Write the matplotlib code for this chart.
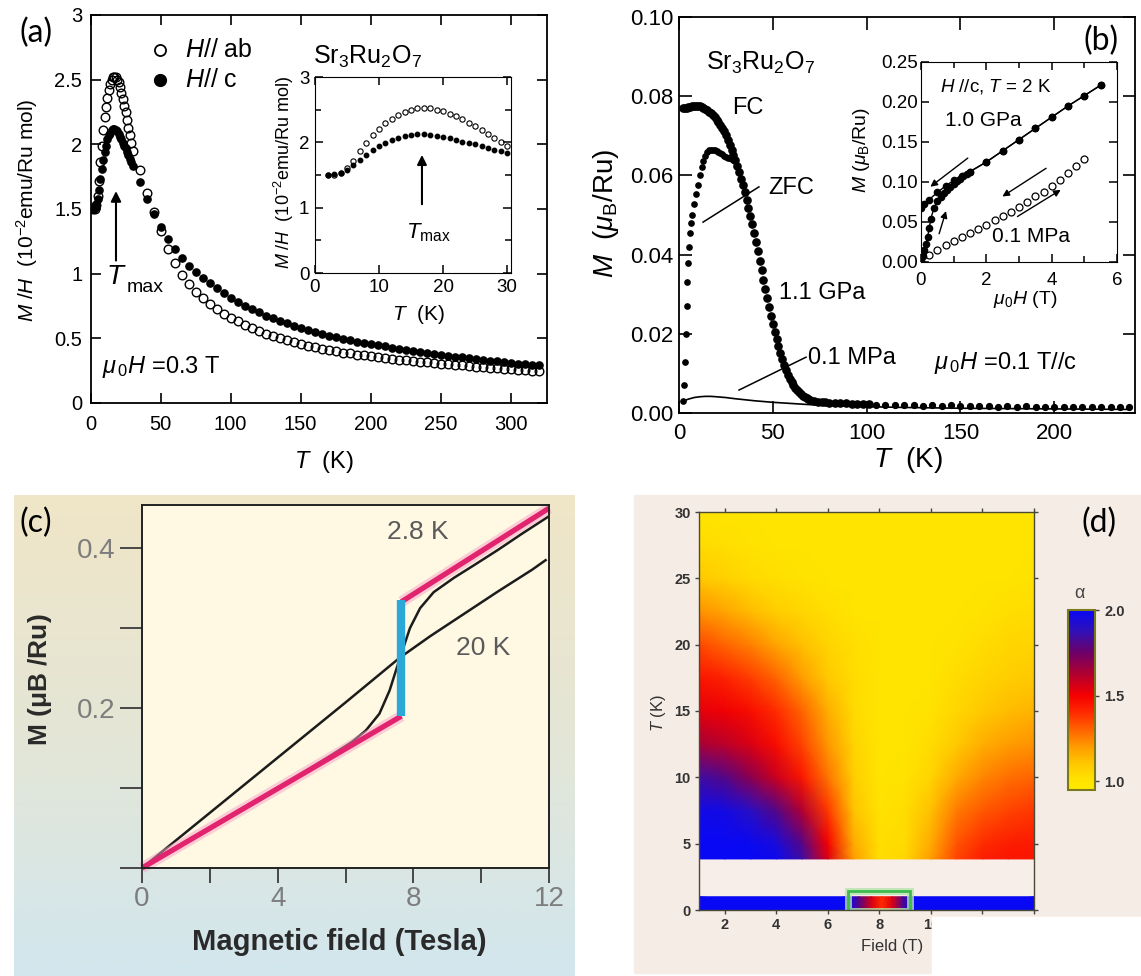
import numpy as np
import matplotlib
matplotlib.use('Agg')
import matplotlib.pyplot as plt
from matplotlib.colors import LinearSegmentedColormap, Normalize
from matplotlib.cm import ScalarMappable
from matplotlib.patches import Rectangle
from matplotlib.lines import Line2D
from matplotlib.ticker import MultipleLocator, FuncFormatter, FormatStrFormatter

plt.rcParams['font.family'] = ['Liberation Sans', 'DejaVu Sans']
plt.rcParams['mathtext.fontset'] = 'custom'
plt.rcParams['mathtext.rm'] = 'Liberation Sans'
plt.rcParams['mathtext.it'] = 'Liberation Sans:italic'
plt.rcParams['mathtext.bf'] = 'Liberation Sans:bold'

# ---------------- (a) M/H vs T at 0.3 T ----------------
t_low = list(range(2, 31))
chi_ab_low = [1.50, 1.50, 1.53, 1.60, 1.72, 1.86, 1.99, 2.11, 2.21, 2.29, 2.36, 2.42, 2.47, 2.50,
              2.52, 2.52, 2.52, 2.50, 2.48, 2.44, 2.40, 2.35, 2.30, 2.25, 2.19, 2.13, 2.07, 2.01, 1.95]
chi_c_low = [1.50, 1.51, 1.53, 1.58, 1.65, 1.73, 1.81, 1.88, 1.94, 1.99, 2.04, 2.07, 2.09, 2.11,
             2.12, 2.12, 2.11, 2.10, 2.08, 2.06, 2.04, 2.01, 1.99, 1.97, 1.94, 1.92, 1.89, 1.86, 1.83]
t_high = list(range(35, 321, 5))
chi_ab_high = [1.80, 1.62, 1.48, 1.33, 1.19, 1.08, 0.99, 0.92, 0.86, 0.81, 0.765, 0.725, 0.69, 0.66,
               0.635, 0.605, 0.58, 0.555, 0.535, 0.515, 0.50, 0.485, 0.47, 0.455, 0.44, 0.43, 0.42,
               0.41, 0.40, 0.39, 0.385, 0.375, 0.37, 0.36, 0.355, 0.35, 0.34, 0.335, 0.33, 0.325,
               0.32, 0.315, 0.31, 0.305, 0.30, 0.295, 0.29, 0.285, 0.28, 0.277, 0.273, 0.27, 0.266,
               0.262, 0.258, 0.254, 0.25, 0.247]
chi_c_high = [1.71, 1.58, 1.46, 1.36, 1.27, 1.19, 1.12, 1.06, 1.01, 0.965, 0.925, 0.89, 0.85, 0.81,
              0.78, 0.75, 0.725, 0.70, 0.675, 0.655, 0.635, 0.615, 0.595, 0.58, 0.565, 0.55, 0.535,
              0.52, 0.51, 0.495, 0.485, 0.475, 0.465, 0.455, 0.445, 0.437, 0.428, 0.42, 0.412, 0.404,
              0.396, 0.388, 0.38, 0.373, 0.366, 0.359, 0.352, 0.346, 0.34, 0.334, 0.328, 0.322,
              0.316, 0.31, 0.305, 0.30, 0.295, 0.29]

# ---------------- (b) M vs T at 1.1 GPa / 0.1 MPa ----------------
fc_t = list(range(2, 71)) + [72, 74, 76, 78, 80, 83, 86, 89, 92, 95, 98, 101]
fc_m = [0.0770, 0.0770, 0.0771, 0.0772, 0.0773, 0.0774, 0.0775, 0.0775, 0.0775, 0.0774, 0.0773,
        0.0771, 0.0768, 0.0765, 0.0761, 0.0757, 0.0752, 0.0747, 0.0741, 0.0735, 0.0728, 0.0720,
        0.0711, 0.0701, 0.0690, 0.0678, 0.0665, 0.0652, 0.0638, 0.0623, 0.0608, 0.0592, 0.0575,
        0.0558, 0.0538, 0.0518, 0.0498, 0.0477, 0.0455, 0.0432, 0.0408, 0.0384, 0.0360, 0.0336,
        0.0313, 0.0290, 0.0268, 0.0246, 0.0225, 0.0205, 0.0186, 0.0168, 0.0151, 0.0136, 0.0122,
        0.0109, 0.0097, 0.0087, 0.0078, 0.0070, 0.0063, 0.0057, 0.0052, 0.0048, 0.0044, 0.0041,
        0.0038, 0.0036, 0.0034,
        0.0031, 0.0029, 0.0028, 0.0027, 0.0026, 0.0025, 0.0024, 0.0024, 0.0023, 0.0023, 0.0022, 0.0022]
zfc_t = [2.0, 2.5, 3.0, 3.5, 4.0, 4.5, 5.0, 5.5, 6.0, 6.5, 7.0, 8, 9, 10, 11, 12, 13, 14, 15, 16,
         17, 18, 19, 20, 21, 22, 23, 24, 25, 26, 27, 28, 29, 30]
zfc_m = [0.0030, 0.0070, 0.0130, 0.0200, 0.0270, 0.0330, 0.0380, 0.0420, 0.0455, 0.0480, 0.0500,
         0.0527, 0.0552, 0.0577, 0.0600, 0.0620, 0.0637, 0.0650, 0.0658, 0.0663, 0.0665, 0.0665,
         0.0663, 0.0662, 0.0659, 0.0656, 0.0653, 0.0650, 0.0647, 0.0645, 0.0643, 0.0641, 0.0639, 0.0636]
tail_t = list(range(105, 241, 5))
tail_m = [0.0021, 0.0020, 0.0021, 0.0019, 0.0020, 0.0018, 0.0019, 0.0018, 0.0019, 0.0017, 0.0018,
          0.0017, 0.0018, 0.0016, 0.0017, 0.0016, 0.0017, 0.0016, 0.0016, 0.0015, 0.0016, 0.0015,
          0.0015, 0.0015, 0.0014, 0.0015, 0.0014, 0.0014]
amb_t = [2, 5, 8, 11, 14, 17, 20, 25, 30, 40, 50, 60, 70, 80, 90, 100, 120, 150, 180, 210, 240]
amb_m = [0.0030, 0.0035, 0.0039, 0.0041, 0.0042, 0.0042, 0.0041, 0.0039, 0.0036, 0.0031, 0.0027,
         0.0024, 0.0021, 0.0019, 0.0017, 0.0016, 0.0014, 0.0012, 0.0011, 0.0010, 0.0009]

# inset (b): M vs field at 2 K
gpa_up_h = [0, 0.05, 0.1, 0.15, 0.2, 0.25, 0.3, 0.4, 0.5, 0.6, 0.7, 0.8, 0.9, 1.0, 1.1, 1.2, 1.3,
            1.4, 1.5, 2.0, 2.5, 3.0, 3.5, 4.0, 4.5, 5.0, 5.5]
gpa_up_m = [0.004, 0.008, 0.015, 0.022, 0.031, 0.042, 0.054, 0.068, 0.076, 0.081, 0.086, 0.090,
            0.094, 0.098, 0.101, 0.104, 0.107, 0.110, 0.113, 0.125, 0.139, 0.153, 0.167, 0.181,
            0.195, 0.208, 0.221]
gpa_dn_h = [5.5, 5.0, 4.5, 4.0, 3.5, 3.0, 2.5, 2.0, 1.5, 1.25, 1.0, 0.75, 0.5, 0.25, 0.1, 0]
gpa_dn_m = [0.221, 0.208, 0.195, 0.181, 0.167, 0.153, 0.139, 0.125, 0.113, 0.108, 0.102, 0.095,
            0.087, 0.078, 0.073, 0.068]
mpa_h = [0, 0.25, 0.5, 0.75, 1.0, 1.25, 1.5, 1.75, 2.0, 2.25, 2.5, 2.75, 3.0, 3.25, 3.5, 3.75,
         4.0, 4.25, 4.5, 4.75, 5.0]
mpa_m = [0.000, 0.009, 0.015, 0.021, 0.026, 0.031, 0.036, 0.041, 0.046, 0.052, 0.057, 0.063,
         0.069, 0.075, 0.082, 0.088, 0.095, 0.102, 0.111, 0.120, 0.129]

# ---------------- (c) M vs field ----------------
k20_h = [0, 2, 4, 6, 7, 7.6, 8.5, 9.5, 10.5, 11.5, 11.9]
k20_m = [0, 0.069, 0.138, 0.207, 0.242, 0.263, 0.29, 0.318, 0.346, 0.373, 0.385]
k28_h = [0, 2, 4, 5.5, 6.2, 6.6, 7.0, 7.3, 7.6, 7.9, 8.2, 8.6, 9.2, 9.8, 10.5, 11.2, 12]
k28_m = [0, 0.05, 0.1, 0.139, 0.158, 0.172, 0.193, 0.222, 0.262, 0.300, 0.325, 0.345, 0.363,
         0.379, 0.398, 0.418, 0.44]
low_branch_h = [0, 7.65]
low_branch_m = [0, 0.19]
high_branch_h = [7.65, 12]
high_branch_m = [0.333, 0.45]
jump_h = [7.65, 7.65]
jump_m = [0.19, 0.335]

# ---------------- (d) exponent alpha map ----------------
field_d = [1, 2, 3, 4, 5, 6, 7, 8, 9, 10, 11, 12, 13, 14]
temp_d = [3.85, 5, 7.5, 10, 12.5, 15, 17.5, 20, 22.5, 25, 27.5, 30]
alpha_d = [
    [2.00, 2.00, 2.00, 1.98, 1.85, 1.55, 1.20, 1.02, 1.05, 1.20, 1.36, 1.43, 1.45, 1.45],
    [2.00, 2.00, 1.99, 1.95, 1.80, 1.50, 1.17, 1.02, 1.04, 1.17, 1.33, 1.40, 1.43, 1.44],
    [1.97, 1.96, 1.90, 1.80, 1.63, 1.38, 1.11, 1.01, 1.03, 1.12, 1.26, 1.32, 1.36, 1.38],
    [1.85, 1.80, 1.70, 1.58, 1.45, 1.27, 1.08, 1.00, 1.01, 1.06, 1.17, 1.24, 1.28, 1.30],
    [1.64, 1.61, 1.55, 1.47, 1.36, 1.21, 1.06, 1.00, 1.00, 1.03, 1.10, 1.16, 1.20, 1.22],
    [1.53, 1.51, 1.47, 1.40, 1.30, 1.16, 1.04, 1.00, 1.00, 1.01, 1.05, 1.10, 1.13, 1.15],
    [1.45, 1.42, 1.37, 1.30, 1.20, 1.10, 1.03, 1.00, 1.00, 1.00, 1.03, 1.06, 1.08, 1.10],
    [1.35, 1.30, 1.25, 1.18, 1.12, 1.06, 1.02, 1.00, 1.00, 1.00, 1.01, 1.03, 1.05, 1.06],
    [1.22, 1.18, 1.13, 1.08, 1.05, 1.02, 1.00, 1.00, 1.00, 1.00, 1.00, 1.01, 1.02, 1.03],
    [1.10, 1.07, 1.04, 1.02, 1.01, 1.00, 1.00, 1.00, 1.00, 1.00, 1.00, 1.00, 1.00, 1.01],
    [1.03, 1.02, 1.01, 1.00, 1.00, 1.00, 1.00, 1.00, 1.00, 1.00, 1.00, 1.00, 1.00, 1.00],
    [1.00, 1.00, 1.00, 1.00, 1.00, 1.00, 1.00, 1.00, 1.00, 1.00, 1.00, 1.00, 1.00, 1.00],
]
strip_field = [1, 6.8, 7.2, 7.7, 8.1, 8.5, 8.9, 9.2, 14]
strip_temp = [0, 1.0]
strip_alpha = [2.0, 2.0, 1.8, 1.55, 1.4, 1.55, 1.8, 2.0, 2.0]

W, H = 1141, 976
fig = plt.figure(figsize=(W / 100, H / 100), dpi=100)
fig.patch.set_facecolor('white')


def box(x0, y0, x1, y1):
    return fig.add_axes([x0 / W, 1 - y1 / H, (x1 - x0) / W, (y1 - y0) / H])


def ftext(x, y, s, **kw):
    kw.setdefault('ha', 'center')
    kw.setdefault('va', 'center')
    return fig.text(x / W, 1 - y / H, s, **kw)


gfmt = FuncFormatter(lambda v, p: f'{v:g}')

# ===== (a) =====
ax_a = box(90.5, 15, 547, 403)
t_all = t_low + t_high
ax_a.plot(t_all, chi_c_low + chi_c_high, 'o', ms=5.2, color='k')
ax_a.plot(t_all, chi_ab_low + chi_ab_high, 'o', ms=6.2, mfc='none', mec='k', mew=1.0)
ax_a.set_xlim(0, 326)
ax_a.set_ylim(0, 3)
ax_a.xaxis.set_major_locator(MultipleLocator(50))
ax_a.yaxis.set_major_locator(MultipleLocator(0.5))
ax_a.yaxis.set_major_formatter(gfmt)
ax_a.tick_params(direction='in', top=True, right=True, length=7, width=1.2,
                 labelsize=14.5, pad=6)
ax_a.tick_params(axis='x', pad=9)
for s in ax_a.spines.values():
    s.set_linewidth(1.3)
ax_a.annotate('', xy=(18.2, 1.66), xytext=(18.2, 1.08),
              arrowprops=dict(arrowstyle='-|>', color='k', lw=1.5, mutation_scale=15))
ax_a.text(8.2, 0.278, r'$\mu_{\,0}H$ =0.3 T', fontsize=17, va='center')
ax_a.text(159, 2.676, r'Sr$_3$Ru$_2$O$_7$', fontsize=18, va='center')
ftext(116.5, 277, '$T$', fontsize=20)
ftext(127, 288, 'max', ha='left', fontsize=14)
fig.add_artist(Line2D([160 / W], [1 - 50 / H], marker='o', ms=8, mfc='none', mec='k',
                      mew=1.3, transform=fig.transFigure))
fig.add_artist(Line2D([160 / W], [1 - 80 / H], marker='o', ms=8.5, color='k',
                      transform=fig.transFigure))
ftext(185, 50, '$H$// ab', ha='left', fontsize=18)
ftext(185, 80, '$H$// c', ha='left', fontsize=18)
ftext(27, 210, r'$M$ /$H$  (10$^{-2}$emu/Ru mol)', rotation=90, fontsize=15)
ftext(324, 462, r'$T$  (K)', fontsize=17)

ax_ai = box(315, 77, 511, 273)
ax_ai.plot(t_all, chi_c_low + chi_c_high, 'o', ms=3.2, color='k')
ax_ai.plot(t_all, chi_ab_low + chi_ab_high, 'o', ms=3.8, mfc='none', mec='k', mew=0.8)
ax_ai.set_xlim(0, 30.6)
ax_ai.set_ylim(0, 3)
ax_ai.xaxis.set_major_locator(MultipleLocator(10))
ax_ai.yaxis.set_major_locator(MultipleLocator(1))
ax_ai.yaxis.set_minor_locator(MultipleLocator(0.5))
ax_ai.tick_params(which='both', direction='in', top=True, right=True, length=6, width=1.1,
                  labelsize=13.5, pad=4)
ax_ai.tick_params(which='minor', length=4)
ax_ai.annotate('', xy=(16.7, 1.85), xytext=(16.7, 1.01),
               arrowprops=dict(arrowstyle='-|>', color='k', lw=1.5, mutation_scale=14))
ftext(428, 233, r'$T_{\rm max}$', fontsize=16)
ftext(284, 173, r'$M$ /$H$  (10$^{-2}$emu/Ru mol)', rotation=90, fontsize=13)
ftext(418, 315, r'$T$  (K)', fontsize=15)

# ===== (b) =====
ax_b = box(679, 17, 1135, 413)
ax_b.plot(amb_t, amb_m, '-', color='k', lw=1.2)
ax_b.plot(fc_t, fc_m, 'o', ms=5.2, color='k')
ax_b.plot(zfc_t, zfc_m, 'o', ms=3.8, color='k')
ax_b.plot(tail_t, tail_m, 'o', ms=4.2, color='k')
ax_b.set_xlim(0, 243)
ax_b.set_ylim(0, 0.1)
ax_b.xaxis.set_major_locator(MultipleLocator(50))
ax_b.yaxis.set_major_locator(MultipleLocator(0.02))
ax_b.yaxis.set_major_formatter(FormatStrFormatter('%.2f'))
ax_b.tick_params(direction='in', top=True, right=True, length=9, width=1.2, labelsize=16, pad=4)
ax_b.tick_params(axis='x', pad=7)
for s in ax_b.spines.values():
    s.set_linewidth(1.3)
ax_b.text(14.4, 0.0884, r'Sr$_3$Ru$_2$O$_7$', fontsize=18, va='center')
ax_b.text(28.3, 0.077, 'FC', fontsize=17, va='center')
ax_b.text(47.4, 0.0568, 'ZFC', fontsize=17, va='center')
ax_b.plot([12.8, 42.6], [0.0482, 0.0571], 'k-', lw=1.1)
ax_b.text(53.3, 0.0303, '1.1 GPa', fontsize=17, va='center')
ax_b.text(68.8, 0.0139, '0.1 MPa', fontsize=17, va='center')
ax_b.plot([32, 67.7], [0.0058, 0.0141], 'k-', lw=1.1)
ax_b.text(135.9, 0.0126, r'$\mu_{\,0}H$ =0.1 T//c', fontsize=17, va='center')
ftext(606, 213, r'$M$  ($\mu_{\rm B}$/Ru)', rotation=90, fontsize=20)
ftext(908, 460, r'$T$  (K)', fontsize=20)

ax_bi = box(921, 62, 1117, 262)
ax_bi.plot(gpa_dn_h, gpa_dn_m, 'o-', ms=4.5, color='k', lw=1.0)
ax_bi.plot(gpa_up_h, gpa_up_m, 'o-', ms=4.5, color='k', lw=1.0)
ax_bi.plot(mpa_h, mpa_m, 'o', ms=5, mfc='none', mec='k', mew=0.9)
ax_bi.set_xlim(0, 6)
ax_bi.set_ylim(0, 0.25)
ax_bi.xaxis.set_major_locator(MultipleLocator(2))
ax_bi.xaxis.set_minor_locator(MultipleLocator(1))
ax_bi.yaxis.set_major_locator(MultipleLocator(0.05))
ax_bi.yaxis.set_major_formatter(FormatStrFormatter('%.2f'))
ax_bi.tick_params(which='both', direction='in', top=True, right=True, length=6, width=1.1,
                  labelsize=13.5, pad=2)
ax_bi.tick_params(axis='x', which='both', pad=7)
ax_bi.tick_params(which='minor', length=4)
arrow_kw = dict(arrowstyle='-|>', color='k', lw=1.0, mutation_scale=10)
for tail, head in [((1.5, 0.132), (0.22, 0.092)), ((0.53, 0.032), (0.79, 0.067)),
                   ((3.9, 0.119), (2.42, 0.080)), ((2.88, 0.055), (4.35, 0.092))]:
    ax_bi.annotate('', xy=head, xytext=tail, arrowprops=arrow_kw)
ftext(940, 87, r'$H$ //c, $T$ = 2 K', ha='left', fontsize=13.5)
ftext(945, 121, '1.0 GPa', ha='left', fontsize=15)
ftext(992, 237, '0.1 MPa', ha='left', fontsize=15)
ftext(861, 150, r'$M$ ($\mu_{\rm B}$/Ru)', rotation=90, fontsize=14)
ftext(1025, 299, r'$\mu_0H$ (T)', fontsize=14)

# ===== (c) =====
bg_cmap = LinearSegmentedColormap.from_list('bgc', ['#f0e5c7', '#e4e6d6', '#d2e6ee'])
bg_c = box(14, 495, 575, 976)
bg_c.set_axis_off()
bg_c.imshow(np.linspace(0, 1, 200).reshape(-1, 1), cmap=bg_cmap, aspect='auto',
            extent=[0, 1, 0, 1], interpolation='bilinear')

ax_c = box(142, 505, 549, 868)
ax_c.set_facecolor('#fff8e3')
ax_c.plot(k20_h, k20_m, color='#1c1c1c', lw=1.8)
ax_c.plot(k28_h, k28_m, color='#1c1c1c', lw=1.8)
for hh, mm in [(low_branch_h, low_branch_m), (high_branch_h, high_branch_m)]:
    ax_c.plot(hh, mm, color='#f6a4c6', lw=8, alpha=0.5, solid_capstyle='butt', clip_on=False)
    ax_c.plot(hh, mm, color='#e2246f', lw=3.8, solid_capstyle='butt', clip_on=False)
ax_c.plot(jump_h, jump_m, color='#2ba7d8', lw=6, solid_capstyle='butt')
ax_c.set_xlim(0, 12)
ax_c.set_ylim(0, 0.454)
ax_c.set_xticks([0, 4, 8, 12])
ax_c.set_xticks([2, 6, 10], minor=True)
ax_c.set_yticks([0, 0.1, 0.2, 0.3, 0.4])
ax_c.set_yticklabels(['', '', '0.2', '', '0.4'])
ax_c.tick_params(axis='both', which='both', direction='out', color='#3a3a3a', width=1.3,
                 labelcolor='#7d7d7d', labelsize=20)
ax_c.tick_params(axis='y', length=16, pad=3)
ax_c.tick_params(axis='x', which='both', length=11, pad=2)
for s in ax_c.spines.values():
    s.set_linewidth(1.4)
    s.set_color('#222222')
ax_c.text(8.14, 0.42, '2.8 K', ha='center', va='center', fontsize=19, color='#5a5a5a')
ax_c.text(10.06, 0.275, '20 K', ha='center', va='center', fontsize=19, color='#5a5a5a')
ftext(40, 680, r'$\mathbf{M}$ $\mathbf{(\mu B\ /Ru)}$', rotation=90, fontsize=19,
      color='#2a2a2a')
ftext(339, 942, 'Magnetic field (Tesla)', fontsize=21, fontweight='bold', color='#2a2a2a')

# ===== (d) =====
fig.add_artist(Rectangle((634 / W, 1 - 973 / H), (W - 634) / W, (973 - 495) / H,
                         transform=fig.transFigure, color='#f6ece6', zorder=-10))
cmap_alpha = LinearSegmentedColormap.from_list('alpha', [
    (0.0, '#ffe800'), (0.048, '#ffe400'), (0.143, '#ffc800'), (0.238, '#ff9c00'),
    (0.333, '#ff6400'), (0.429, '#ff2a00'), (0.524, '#f50000'), (0.638, '#b5002e'),
    (0.762, '#6e0066'), (0.886, '#3010b8'), (1.0, '#0808f5')])
norm = Normalize(0.95, 2.0)

ax_d = box(699, 512, 1034, 910)
ax_d.set_facecolor('#f8eee9')
ax_d.pcolormesh(field_d, temp_d, np.array(alpha_d), shading='gouraud', cmap=cmap_alpha, norm=norm)
ax_d.pcolormesh(strip_field, strip_temp, np.vstack([strip_alpha, strip_alpha]),
                shading='gouraud', cmap=cmap_alpha, norm=norm)
ax_d.add_patch(Rectangle((6.78, -0.1), 2.4, 1.5, fill=False, ec='#b4e6ae', lw=5, alpha=0.8))
ax_d.add_patch(Rectangle((6.78, -0.1), 2.4, 1.5, fill=False, ec='#3dbb4c', lw=2))
ax_d.set_xlim(1, 14)
ax_d.set_ylim(0, 30)
ax_d.set_xticks([2, 4, 6, 8, 10, 12, 14])
ax_d.set_yticks([0, 5, 10, 15, 20, 25, 30])
ax_d.tick_params(axis='both', direction='out', length=3, width=1, color='#444444',
                 labelsize=10.5, labelcolor='#333333', pad=3)
ax_d.tick_params(top=True, right=True)
for lbl in ax_d.get_xticklabels() + ax_d.get_yticklabels():
    lbl.set_fontweight('bold')
for s in ax_d.spines.values():
    s.set_linewidth(1.0)
    s.set_color('#4a4a36')
ftext(659, 713, r'$T$ (K)', rotation=90, fontsize=12, color='#333333')
ftext(892, 947, 'Field (T)', fontsize=12, color='#333333')

cax = box(1068, 610, 1095, 790)
cb = fig.colorbar(ScalarMappable(norm=norm, cmap=cmap_alpha), cax=cax, ticks=[1.0, 1.5, 2.0])
cb.ax.yaxis.set_major_formatter(FormatStrFormatter('%.1f'))
cb.outline.set_edgecolor('#7a7a1c')
cb.outline.set_linewidth(1.5)
cb.ax.tick_params(length=3, width=1, labelsize=10.5, labelcolor='#333333', color='#444444')
for lbl in cb.ax.get_yticklabels():
    lbl.set_fontweight('bold')
ftext(1079, 593, 'α', fontsize=13, color='#444444')

# cropped corner below the map
fig.add_artist(Rectangle((932 / W, 0), (W - 932) / W, (976 - 917) / H,
                         transform=fig.transFigure, color='white', zorder=20))

# panel letters
for lx, ly, lab in [(36, 33, '(a)'), (1101, 41, '(b)'), (36, 523, '(c)'), (1099, 523, '(d)')]:
    ftext(lx, ly, lab, fontsize=23, family='Lato', color='black', zorder=30)

fig.savefig('out.png', dpi=100)
